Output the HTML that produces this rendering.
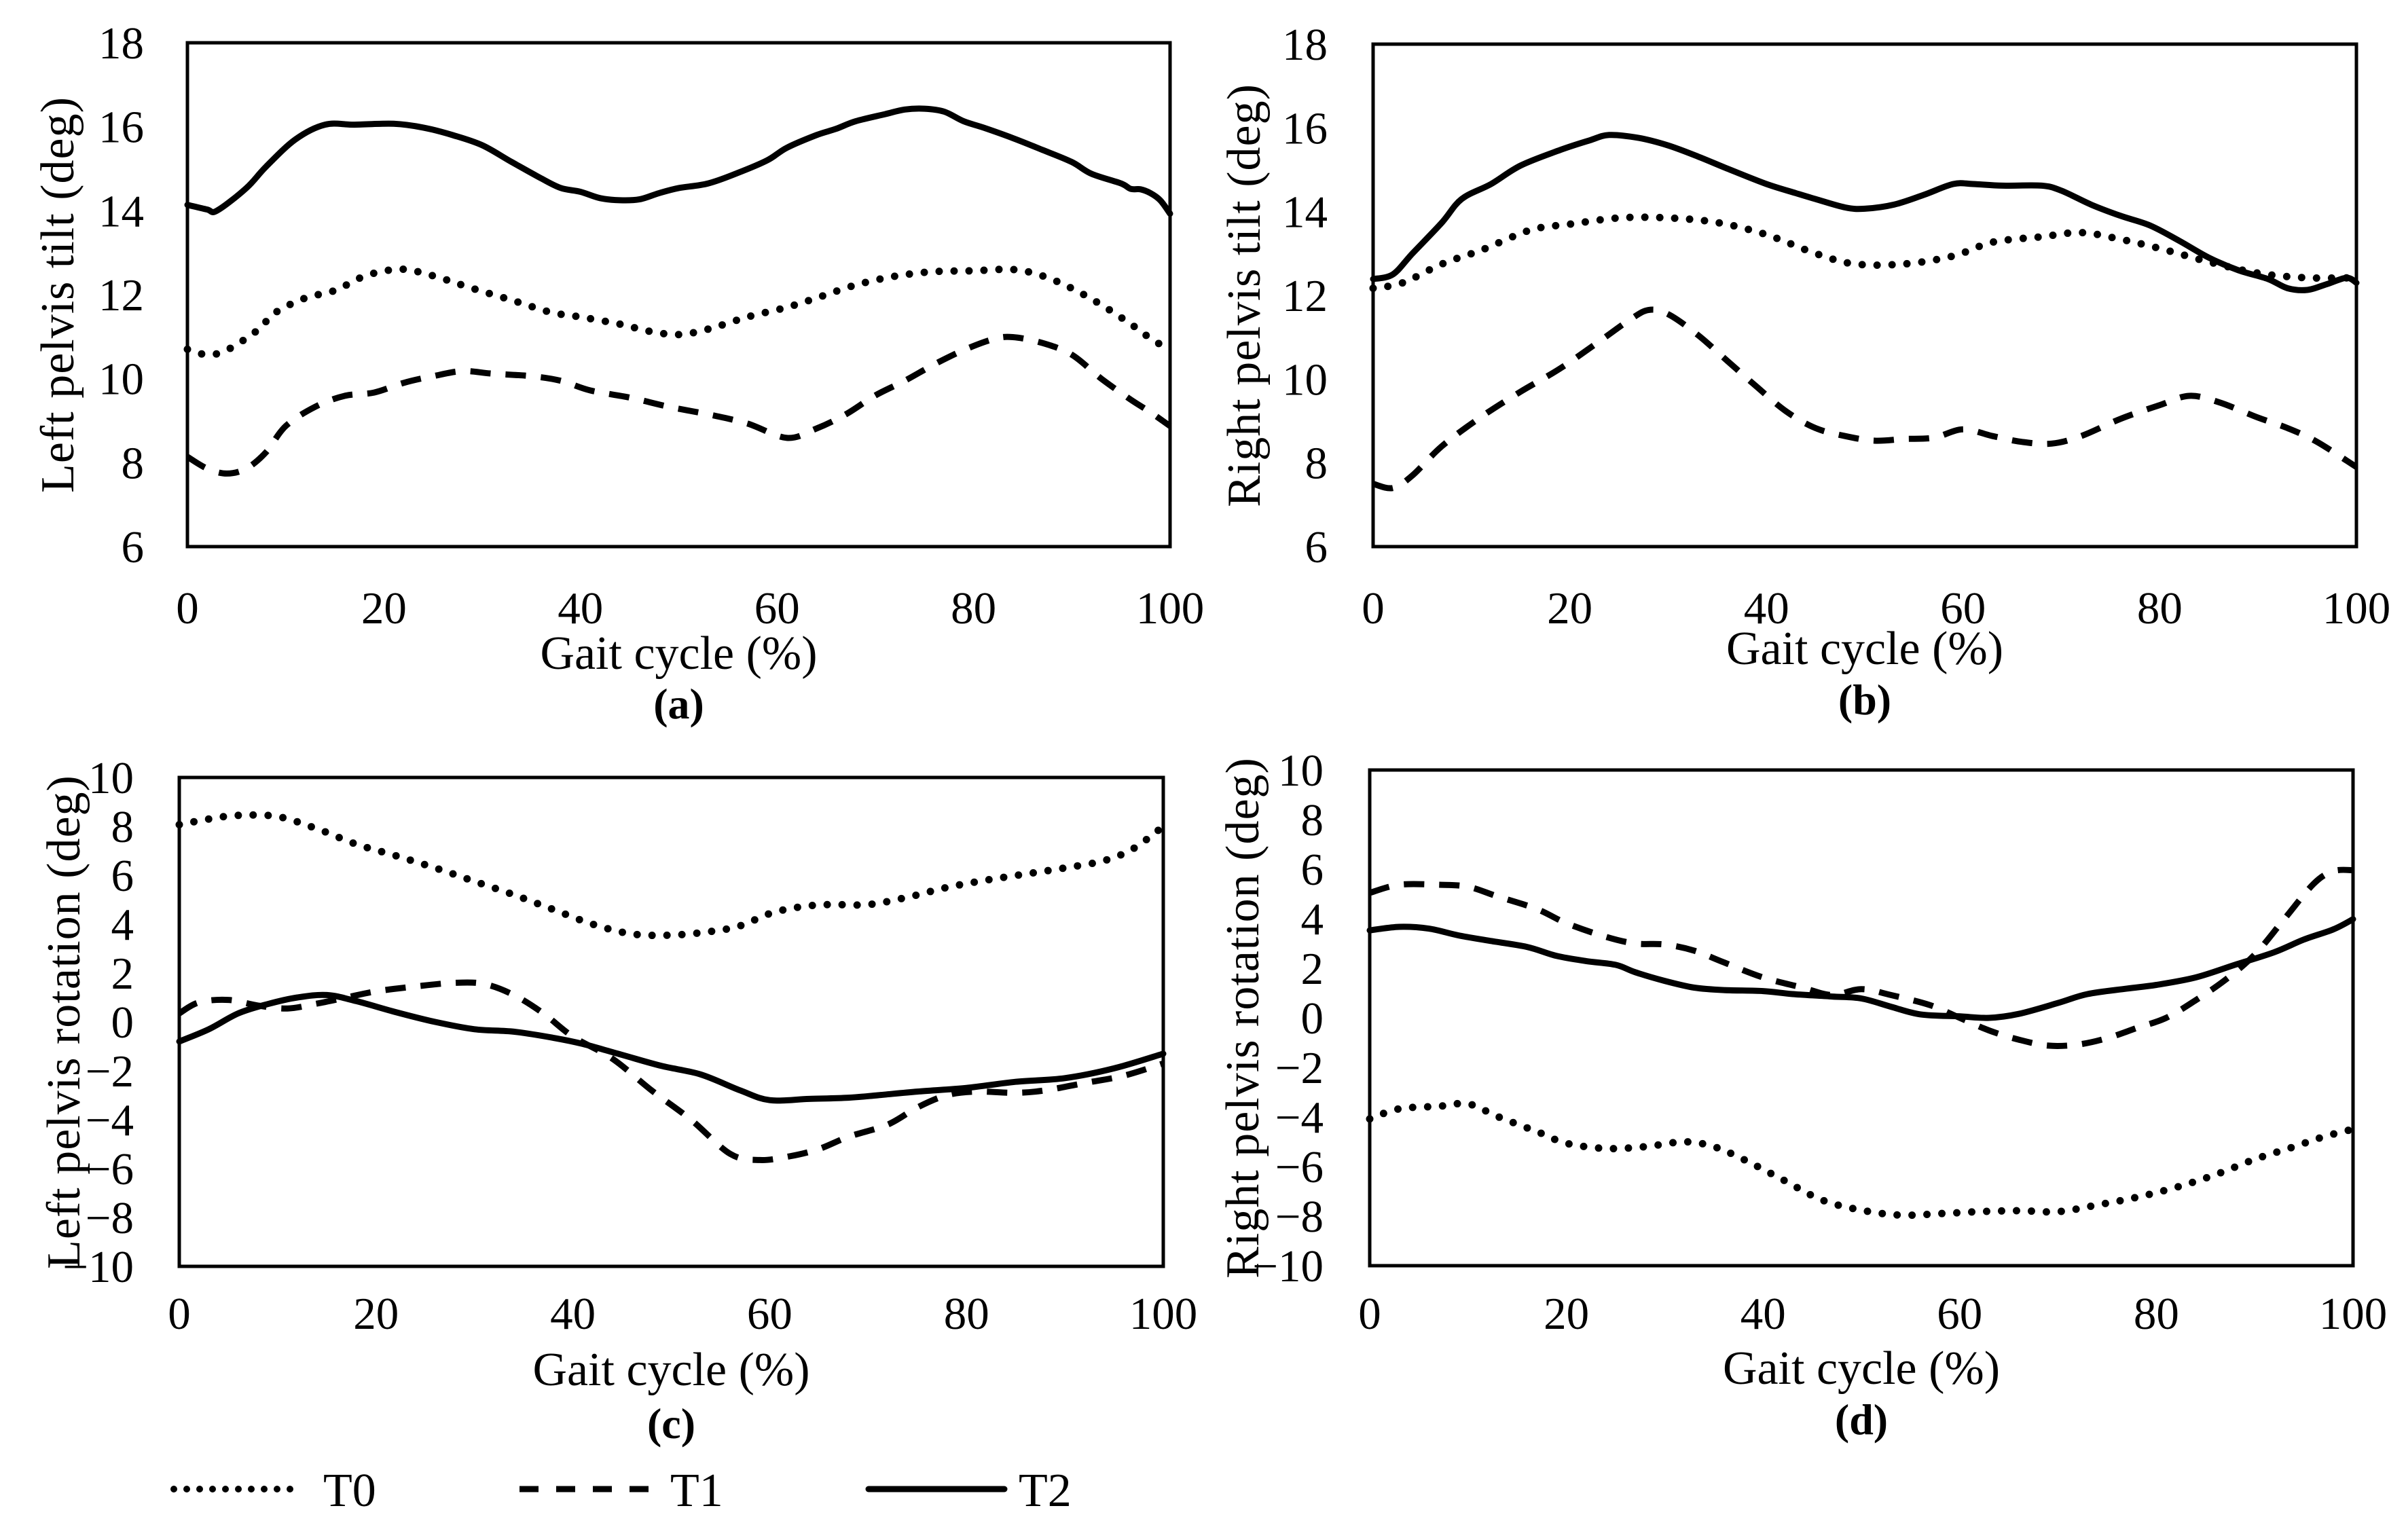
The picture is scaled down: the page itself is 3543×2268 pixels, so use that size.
<!DOCTYPE html>
<html><head><meta charset="utf-8"><style>
html,body{margin:0;padding:0;background:#fff;}
svg{display:block;font-family:"Liberation Serif",serif;}
</style></head><body>
<svg id="fig" width="3543" height="2268" viewBox="0 0 3543 2268" xmlns="http://www.w3.org/2000/svg"></svg>
<script>
// ---- Panel (a) Left pelvis tilt ----
const aT2x=[0,2,3,6,8,11,14,17,21,24,27,30,33,36,38,40,42,44,46,48,50,53,56,59,61,64,66,68,71,73,75,77,79,81,84,87,90,92,95,96,97,98,99,100];
const aT2y=[14.14,14.03,14.0,14.54,15.05,15.7,16.05,16.05,16.07,15.98,15.8,15.56,15.16,14.77,14.54,14.45,14.3,14.25,14.27,14.42,14.54,14.65,14.9,15.2,15.5,15.8,15.95,16.13,16.3,16.41,16.43,16.36,16.13,15.98,15.73,15.45,15.16,14.88,14.65,14.52,14.51,14.42,14.25,13.93];
const aT0x=[0,2,4,7,9,12,15,18,21,23,26,29,33,37,40,44,47,50,53,57,61,64,68,72,76,80,84,87,90,93,96,98,100];
const aT0y=[10.7,10.57,10.68,11.13,11.58,11.92,12.1,12.44,12.6,12.57,12.38,12.15,11.87,11.58,11.47,11.3,11.13,11.05,11.18,11.47,11.7,11.92,12.23,12.44,12.55,12.57,12.6,12.45,12.15,11.76,11.3,10.96,10.68];
const aT1x=[0,2,4,6,8,10,13,16,19,22,25,28,31,35,38,41,45,49,53,57,61,64,67,70,73,76,79,82,84,87,90,93,96,98,100];
const aT1y=[8.14,7.86,7.74,7.86,8.25,8.87,9.33,9.59,9.67,9.9,10.06,10.18,10.12,10.06,9.95,9.72,9.55,9.33,9.15,8.93,8.59,8.81,9.15,9.6,9.95,10.34,10.68,10.94,10.99,10.85,10.57,10.0,9.5,9.2,8.87];
// ---- Panel (b) Right pelvis tilt ----
const bT2x=[0,2,4,7,9,12,15,19,22,24,27,30,33,36,40,43,45,48,50,53,56,59,61,64,68,70,73,76,79,82,85,88,91,93,95,97,99,100];
const bT2y=[12.39,12.5,13.0,13.74,14.3,14.66,15.1,15.47,15.7,15.83,15.76,15.58,15.32,15.03,14.66,14.44,14.3,14.1,14.07,14.17,14.4,14.66,14.66,14.62,14.62,14.5,14.17,13.9,13.67,13.3,12.9,12.6,12.39,12.17,12.13,12.27,12.42,12.3];
const bT0x=[0,3,7,11,16,20,25,30,35,40,45,49,54,59,63,68,72,76,80,85,90,95,100];
const bT0y=[12.17,12.3,12.75,13.08,13.56,13.7,13.85,13.85,13.74,13.45,13.0,12.75,12.75,12.94,13.27,13.4,13.5,13.34,13.12,12.8,12.53,12.42,12.42];
const bT1x=[0,2,4,7,11,15,19,23,26,28,30,33,36,39,42,45,48,51,54,57,60,63,66,69,72,76,80,83,86,90,93,96,100];
const bT1y=[7.5,7.4,7.7,8.4,9.1,9.7,10.25,10.9,11.4,11.65,11.55,11.06,10.44,9.82,9.23,8.83,8.64,8.53,8.57,8.6,8.8,8.64,8.5,8.46,8.64,9.05,9.38,9.6,9.45,9.08,8.83,8.5,7.9];
// ---- Panel (c) Left pelvis rotation ----
const cT0x=[0,3,6,10,14,18,22,26,30,34,38,42,46,50,54,57,60,63,66,70,74,78,82,86,90,94,97,100];
const cT0y=[8.07,8.3,8.45,8.4,7.9,7.27,6.8,6.3,5.75,5.2,4.6,4.0,3.6,3.55,3.7,3.93,4.43,4.7,4.8,4.8,5.1,5.5,5.8,6.05,6.3,6.6,7.1,8.0];
const cT1x=[0,2,5,8,11,14,17,20,24,28,31,34,37,40,44,48,52,56,59,62,65,68,72,75,78,81,85,88,92,96,100];
const cT1y=[0.35,0.8,0.9,0.67,0.55,0.75,1.0,1.25,1.45,1.6,1.55,1.1,0.35,-0.6,-1.5,-2.8,-4.0,-5.4,-5.65,-5.5,-5.2,-4.7,-4.2,-3.5,-3.0,-2.85,-2.9,-2.8,-2.5,-2.2,-1.7];
const cT2x=[0,3,6,9,12,15,18,22,26,30,34,38,41,45,49,53,57,60,64,68,71,75,80,85,90,95,100];
const cT2y=[-0.8,-0.3,0.35,0.73,1.0,1.1,0.85,0.4,0.0,-0.3,-0.4,-0.65,-0.9,-1.35,-1.8,-2.15,-2.8,-3.2,-3.15,-3.1,-3.0,-2.85,-2.7,-2.45,-2.3,-1.9,-1.3];
// ---- Panel (d) Right pelvis rotation ----
const dT2x=[0,3,6,9,12,16,19,22,25,27,30,33,36,40,43,47,50,53,56,60,63,66,70,73,77,80,84,88,92,95,98,100];
const dT2y=[3.53,3.67,3.6,3.33,3.12,2.86,2.5,2.29,2.14,1.84,1.49,1.22,1.12,1.08,0.96,0.86,0.78,0.45,0.14,0.06,0.0,0.16,0.6,0.96,1.18,1.33,1.63,2.14,2.65,3.16,3.57,3.98];
const dT1x=[0,3,7,10,13,17,20,24,27,30,33,36,40,44,47,50,53,57,60,63,66,69,72,75,78,81,84,87,90,93,96,98,100];
const dT1y=[5.04,5.37,5.37,5.29,4.9,4.39,3.82,3.27,3.0,2.96,2.71,2.24,1.63,1.22,0.92,1.16,0.92,0.51,0.0,-0.51,-0.88,-1.12,-1.08,-0.82,-0.41,0.0,0.71,1.53,2.55,3.98,5.41,5.92,5.96];
const dT0x=[0,3,7,10,13,17,20,24,28,32,35,38,42,46,50,54,58,62,66,70,74,78,82,86,90,94,97,100];
const dT0y=[-4.08,-3.67,-3.57,-3.47,-3.98,-4.59,-5.06,-5.27,-5.2,-5.0,-5.2,-5.71,-6.53,-7.35,-7.76,-7.96,-7.9,-7.82,-7.78,-7.82,-7.55,-7.24,-6.84,-6.33,-5.71,-5.2,-4.8,-4.49];
const tiltTicks=[6,8,10,12,14,16,18];
const rotTicks=[-10,-8,-6,-4,-2,0,2,4,6,8,10];
const xTicks=[0,20,40,60,80,100];

const NS="http://www.w3.org/2000/svg";
const svg=document.getElementById('fig');
function mk(tag,attrs,parent){const e=document.createElementNS(NS,tag);for(const k in attrs)e.setAttribute(k,attrs[k]);(parent||svg).appendChild(e);return e;}
const styles={
 T0:{'stroke-width':11,'stroke-dasharray':'0 22','stroke-linecap':'round'},
 T1:{'stroke-width':9,'stroke-dasharray':'30 22','stroke-linecap':'butt'},
 T2:{'stroke-width':9,'stroke-linecap':'round'}
};
function smoothPath(pts){
 let d='M'+pts[0][0].toFixed(1)+','+pts[0][1].toFixed(1);
 for(let i=0;i<pts.length-1;i++){
  const p0=pts[Math.max(0,i-1)],p1=pts[i],p2=pts[i+1],p3=pts[Math.min(pts.length-1,i+2)];
  const c1=[p1[0]+(p2[0]-p0[0])/6,p1[1]+(p2[1]-p0[1])/6];
  const c2=[p2[0]-(p3[0]-p1[0])/6,p2[1]-(p3[1]-p1[1])/6];
  d+=' C'+c1[0].toFixed(1)+','+c1[1].toFixed(1)+' '+c2[0].toFixed(1)+','+c2[1].toFixed(1)+' '+p2[0].toFixed(1)+','+p2[1].toFixed(1);
 }
 return d;
}
const panels=[
 {id:'a',L:276,R:1723,T:63,B:805,ymin:6,ymax:18,ticks:tiltTicks,ylab:'Left pelvis tilt (deg)',ylx:86,tickR:212,xtY:918,gY:985,capY:1058,
  series:[['T0',aT0x,aT0y],['T1',aT1x,aT1y],['T2',aT2x,aT2y]]},
 {id:'b',L:2022,R:3470,T:65,B:805,ymin:6,ymax:18,ticks:tiltTicks,ylab:'Right pelvis tilt (deg)',ylx:1833,tickR:1955,xtY:918,gY:978,capY:1052,
  series:[['T0',bT0x,bT0y],['T1',bT1x,bT1y],['T2',bT2x,bT2y]]},
 {id:'c',L:264,R:1713,T:1145,B:1865,ymin:-10,ymax:10,ticks:rotTicks,ylab:'Left pelvis rotation (deg)',ylx:95,tickR:197,xtY:1957,gY:2040,capY:2118,
  series:[['T0',cT0x,cT0y],['T1',cT1x,cT1y],['T2',cT2x,cT2y]]},
 {id:'d',L:2017,R:3465,T:1134,B:1864,ymin:-10,ymax:10,ticks:rotTicks,ylab:'Right pelvis rotation (deg)',ylx:1831,tickR:1949,xtY:1957,gY:2038,capY:2112,
  series:[['T0',dT0x,dT0y],['T1',dT1x,dT1y],['T2',dT2x,dT2y]]}
];
panels.forEach(p=>{
 const g=mk('g',{});
 
 
 const sx=v=>p.L+(v/100)*(p.R-p.L);
 const sy=v=>p.B-(v-p.ymin)/(p.ymax-p.ymin)*(p.B-p.T);
 const box=mk('rect',{x:p.L,y:p.T,width:p.R-p.L,height:p.B-p.T,fill:'none',stroke:'#000','stroke-width':5},g);
 
 
 p.ticks.forEach(t=>{
  const tx=mk('text',{x:p.tickR,y:sy(t)+23,'text-anchor':'end','font-size':67,fill:'#000'},g);
  tx.textContent=t<0?'\u2212'+(-t):String(t);
  
  
 });
 xTicks.forEach(t=>{
  const tx=mk('text',{x:sx(t),y:p.xtY,'text-anchor':'middle','font-size':67,fill:'#000'},g);
  tx.textContent=String(t);
  
  
 });
 const yl=mk('text',{x:0,y:0,'text-anchor':'middle','font-size':70,fill:'#000',transform:'translate('+(p.ylx+22)+','+((p.T+p.B)/2)+') rotate(-90)','letter-spacing':'1'},g);
 yl.textContent=p.ylab;
 
 
 const xl=mk('text',{x:(p.L+p.R)/2,y:p.gY,'text-anchor':'middle','font-size':70,fill:'#000'},g);
 xl.textContent='Gait cycle (%)';
 
 
 const cp=mk('text',{x:(p.L+p.R)/2,y:p.capY,'text-anchor':'middle','font-size':64,'font-weight':'bold',fill:'#000'},g);
 cp.textContent='('+p.id+')';
 
 
 p.series.forEach(s=>{
  const pts=s[1].map((x,i)=>[sx(x),sy(s[2][i])]);
  const attrs=Object.assign({d:smoothPath(pts),fill:'none',stroke:'#000','stroke-linejoin':'round'},styles[s[0]]);
  const path=mk('path',attrs,g);
  
  
 });
});
// legend
const lg=mk('g',{});


const legendItems=[['T0',256,446,476],['T1',765,957,987],['T2',1279,1479,1500]];
legendItems.forEach(it=>{
 const e=mk('g',{},lg);
 
 
 const st=Object.assign({x1:it[1],y1:2193,x2:it[2],y2:2193,stroke:'#000'},styles[it[0]]);
 if(it[0]==='T0'){st['stroke-width']=10;st['stroke-dasharray']='0 19';}
 if(it[0]==='T1'){st['stroke-dasharray']='28 26';}
 mk('line',st,e);
 const t=mk('text',{x:it[3],y:2218,'font-size':70,fill:'#000'},e);
 t.textContent=it[0];
});
</script>
</body></html>
